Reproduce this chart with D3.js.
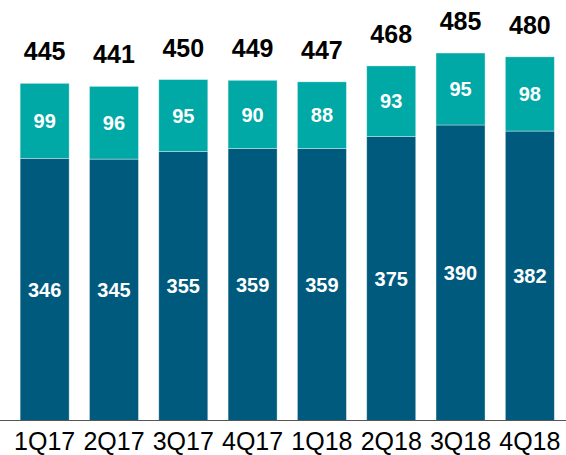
<!DOCTYPE html>
<html>
<head>
<meta charset="utf-8">
<script src="https://cdn.jsdelivr.net/npm/d3@7"></script>
<style>
  html, body { margin: 0; padding: 0; background: #fff; }
  svg { display: block; font-family: Arial, "Liberation Sans", sans-serif; }
</style>
</head>
<body>
<svg id="chart" width="566" height="455"></svg>
<script>
// Quarterly values, split into two stacked components
const quarters = ["1Q17", "2Q17", "3Q17", "4Q17", "1Q18", "2Q18", "3Q18", "4Q18"];
const baseValues = [346, 345, 355, 359, 359, 375, 390, 382];
const topValues = [99, 96, 95, 90, 88, 93, 95, 98];
const totals = [445, 441, 450, 449, 447, 468, 485, 480];

const colors = { base: "#005a7d", top: "#00a8a6" };

const W = 566, H = 455;
const baseline = 420.5;

const svg = d3.select("#chart");

const x = d3.scaleBand()
  .domain(quarters)
  .range([10, 564.5])
  .paddingInner(0.293)
  .paddingOuter(0.1465);

const y = d3.scaleLinear()
  .domain([0, 555])
  .range([baseline, 0]);

const rows = quarters.map((q, i) => ({
  q, base: baseValues[i], top: topValues[i], total: totals[i]
}));

const stack = d3.stack().keys(["base", "top"]);
const series = stack(rows);

const layers = svg.append("g").selectAll("g")
  .data(series)
  .join("g")
  .attr("fill", d => colors[d.key]);

layers.selectAll("rect")
  .data(d => d.map(s => ({ s, key: d.key })))
  .join("rect")
  .attr("x", d => x(d.s.data.q))
  .attr("width", x.bandwidth())
  .attr("y", d => y(d.s[1]))
  .attr("height", d => y(d.s[0]) - y(d.s[1]))
  .attr("stroke", "rgba(255,255,255,0.45)")
  .attr("stroke-width", 0.8);

// Segment value labels
layers.selectAll("text")
  .data(d => d.map(s => ({ s, key: d.key })))
  .join("text")
  .attr("x", d => x(d.s.data.q) + x.bandwidth() / 2)
  .attr("y", d => (y(d.s[0]) + y(d.s[1])) / 2)
  .attr("dy", "0.36em")
  .attr("text-anchor", "middle")
  .attr("fill", "#fff")
  .attr("font-weight", "bold")
  .attr("font-size", 20)
  .text(d => d.s.data[d.key]);

// Totals above each bar
svg.append("g").selectAll("text")
  .data(rows)
  .join("text")
  .attr("x", d => x(d.q) + x.bandwidth() / 2)
  .attr("y", d => y(d.total) - 23)
  .attr("text-anchor", "middle")
  .attr("fill", "#000")
  .attr("font-weight", "bold")
  .attr("font-size", 25)
  .text(d => d.total);

// Category axis
const axis = svg.append("g")
  .attr("transform", `translate(0,${baseline})`)
  .call(d3.axisBottom(x).tickSize(0).tickPadding(0));
axis.select(".domain").remove();
axis.append("line")
  .attr("x1", 0).attr("x2", W)
  .attr("y1", 0).attr("y2", 0)
  .attr("stroke", "#555")
  .attr("stroke-width", 1.2);
axis.selectAll(".tick text")
  .attr("y", 29)
  .attr("dy", 0)
  .attr("fill", "#000")
  .attr("font-size", 25)
  .attr("font-family", "Arial, 'Liberation Sans', sans-serif");
</script>
</body>
</html>
